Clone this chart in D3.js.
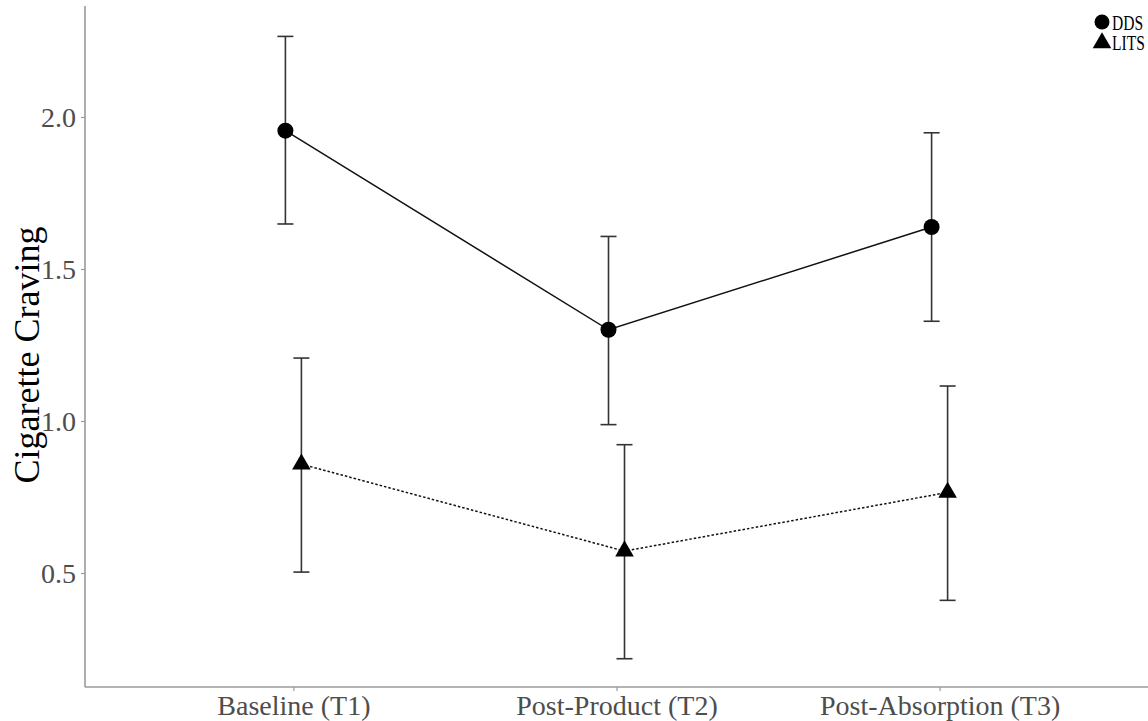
<!DOCTYPE html>
<html>
<head>
<meta charset="utf-8">
<script src="https://cdn.jsdelivr.net/npm/d3@7"></script>
<style>
  body { margin: 0; background: #fff; }
  text { font-family: "Liberation Serif", "DejaVu Serif", serif; }
</style>
</head>
<body>
<div id="chart"></div>
<script>
// categories on the x axis
const timepoints = ["Baseline (T1)", "Post-Product (T2)", "Post-Absorption (T3)"];

// group means and error bar limits
const ddsMean = [1.955, 1.30, 1.638];
const ddsLow = [1.648, 0.988, 1.328];
const ddsHigh = [2.265, 1.607, 1.948];

const litsMean = [0.858, 0.572, 0.765];
const litsLow = [0.503, 0.218, 0.410];
const litsHigh = [1.207, 0.922, 1.115];

const yTicks = [0.5, 1.0, 1.5, 2.0];
const groups = ["DDS", "LITS"];

const width = 1148;
const height = 721;
const plotLeft = 85, plotRight = 1148, plotTop = 6, plotBottom = 687;

const svg = d3.select("#chart").append("svg")
    .attr("width", width).attr("height", height);

const x = d3.scalePoint().domain(timepoints).range([plotLeft, plotRight]).padding(0.645);
const y = d3.scaleLinear().domain([0.125, 2.365]).range([plotBottom, plotTop]);
const dodge = d3.scalePoint().domain(groups).range([-8, 8]);

// build rows for each group
function rows(group, mean, low, high) {
    return timepoints.map((t, i) => ({ group, t, mean: mean[i], low: low[i], high: high[i] }));
}
const series = [
    { group: "DDS", dash: null, values: rows("DDS", ddsMean, ddsLow, ddsHigh) },
    { group: "LITS", dash: "2.5,2", values: rows("LITS", litsMean, litsLow, litsHigh) }
];
const px = d => x(d.t) + dodge(d.group);

// axes
const yAxis = svg.append("g").attr("transform", `translate(${plotLeft},0)`)
    .call(d3.axisLeft(y).tickValues(yTicks).tickFormat(d3.format(".1f")).tickSize(4).tickPadding(5));
const xAxis = svg.append("g").attr("transform", `translate(0,${plotBottom})`)
    .call(d3.axisBottom(x).tickSize(4).tickPadding(4));
[yAxis, xAxis].forEach(a => {
    a.select(".domain").attr("stroke", "#9a9a9a").attr("stroke-width", 1.6);
    a.selectAll(".tick line").attr("stroke", "#9a9a9a").attr("stroke-width", 1.2);
    a.selectAll(".tick text").attr("fill", "#4d4d4d").style("font-size", "28px")
        .style("font-family", "'Liberation Serif', serif");
});
yAxis.select(".domain").attr("d", `M0,${plotBottom}V${plotTop}`);
xAxis.select(".domain").attr("d", `M${plotLeft},0H${plotRight}`);
xAxis.selectAll(".tick text").attr("dy", "0.72em");
yAxis.selectAll(".tick text").attr("dy", "0.34em");

// axis title
svg.append("text")
    .attr("transform", "translate(39,355) rotate(-90)")
    .attr("text-anchor", "middle")
    .style("font-size", "36px")
    .attr("fill", "#000")
    .text("Cigarette Craving");

// error bars
series.forEach(s => {
    const g = svg.append("g");
    g.selectAll("line.v").data(s.values).join("line")
        .attr("class", "v")
        .attr("x1", px).attr("x2", px)
        .attr("y1", d => y(d.low)).attr("y2", d => y(d.high))
        .attr("stroke", "#333").attr("stroke-width", 1.6);
    g.selectAll("line.top").data(s.values).join("line")
        .attr("class", "top")
        .attr("x1", d => px(d) - 8).attr("x2", d => px(d) + 8)
        .attr("y1", d => y(d.high)).attr("y2", d => y(d.high))
        .attr("stroke", "#333").attr("stroke-width", 1.6);
    g.selectAll("line.bot").data(s.values).join("line")
        .attr("class", "bot")
        .attr("x1", d => px(d) - 8).attr("x2", d => px(d) + 8)
        .attr("y1", d => y(d.low)).attr("y2", d => y(d.low))
        .attr("stroke", "#333").attr("stroke-width", 1.6);
});

// lines
const line = d3.line().x(px).y(d => y(d.mean));
series.forEach(s => {
    svg.append("path").datum(s.values)
        .attr("d", line)
        .attr("fill", "none")
        .attr("stroke", "#111")
        .attr("stroke-width", 1.5)
        .attr("stroke-dasharray", s.dash);
});

// points
const circle = d3.symbol().type(d3.symbolCircle).size(Math.PI * 8 * 8);
const triangle = d3.symbol().type(d3.symbolTriangle).size(150);
svg.append("g").selectAll("path").data(series[0].values).join("path")
    .attr("d", circle)
    .attr("transform", d => `translate(${px(d)},${y(d.mean)})`)
    .attr("fill", "#000");
svg.append("g").selectAll("path").data(series[1].values).join("path")
    .attr("d", triangle)
    .attr("transform", d => `translate(${px(d)},${y(d.mean)})`)
    .attr("fill", "#000");

// legend (condensed text, like the reference)
const legend = svg.append("g").attr("transform", "translate(1102,0)");
legend.append("path").attr("d", d3.symbol().type(d3.symbolCircle).size(Math.PI * 7.5 * 7.5))
    .attr("transform", "translate(0,22)").attr("fill", "#000");
legend.append("path").attr("d", d3.symbol().type(d3.symbolTriangle).size(150))
    .attr("transform", "translate(0,43)").attr("fill", "#000");
legend.selectAll("text").data(groups).join("text")
    .attr("transform", (d, i) => `translate(10,${30 + i * 20}) scale(0.74,1)`)
    .style("font-size", "21px")
    .attr("fill", "#000")
    .text(d => d);
</script>
</body>
</html>
